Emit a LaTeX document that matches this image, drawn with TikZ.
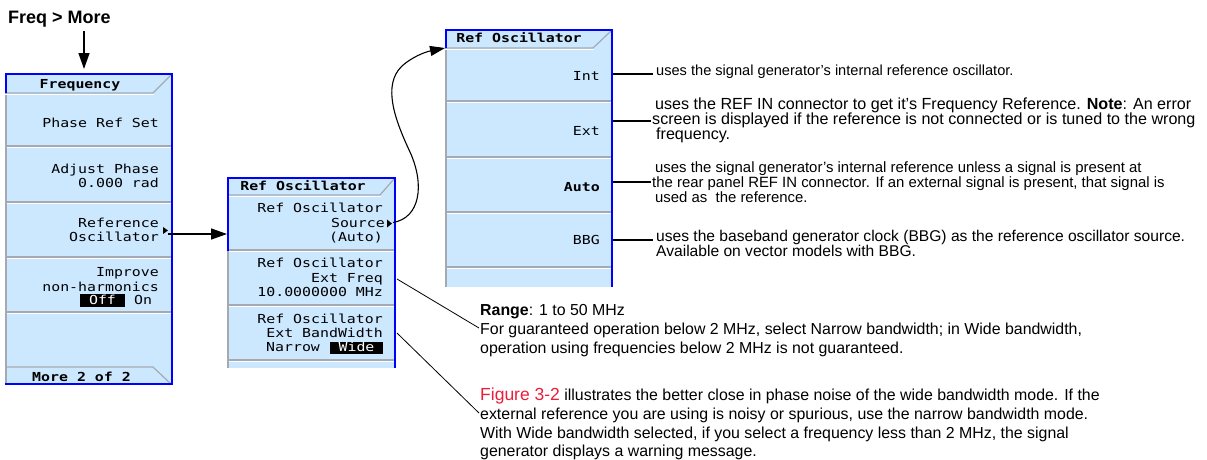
\documentclass[tikz,border=0pt]{standalone}
\usepackage{fontspec}
\setmainfont{Liberation Sans}
\newfontfamily\scrfont[FakeStretch=1.2]{DejaVu Sans Mono}
\usetikzlibrary{arrows.meta}
\definecolor{panelfill}{RGB}{204,232,255}
\definecolor{panelblue}{RGB}{0,0,255}
\definecolor{sepgray}{RGB}{165,170,178}
\definecolor{figred}{RGB}{237,28,58}
\begin{document}
\begin{tikzpicture}[x=1pt,y=-1pt,
  scr/.style={font=\scrfont\fontsize{12.4}{14}\selectfont, inner sep=0pt, anchor=base east},
  scrt/.style={font=\scrfont\bfseries\fontsize{12.4}{14}\selectfont, inner sep=0pt, anchor=base},
  desc/.style={font=\fontsize{15.9}{15.9}\selectfont, inner sep=0pt, anchor=base west},
  note/.style={font=\fontsize{15.9}{15.9}\selectfont, inner sep=0pt, anchor=base west},
  panelbox/.style={fill=panelfill, draw=none, inner sep=0pt, rectangle, anchor=north west},
  blueedge/.style={draw=panelblue, line width=2.4pt},
  grayedge/.style={draw=sepgray, line width=1.6pt},
  sepline/.style={draw=sepgray, line width=1.2pt},
  hiline/.style={draw=white, line width=1pt},
  arr/.style={draw=black, line width=1.4pt, -{Triangle[length=16pt,width=11pt]}},
  curvearr/.style={draw=black, line width=1.1pt, -{Triangle[length=15pt,width=10pt]}},
  conn/.style={draw=black, line width=1.4pt},
  thinconn/.style={draw=black, line width=0.8pt}
]
\useasboundingbox (0,0) rectangle (1207,459);

% ---------- heading and entry arrow
\node[font=\bfseries\fontsize{18}{18}\selectfont, inner sep=0pt, anchor=base west] (freqmore) at (8,23) {Freq > More};
\coordinate (freqarrowtop) at (84,31);
\coordinate (freqarrowtip) at (84,69);

% ---------- Frequency panel
\node[panelbox, minimum width=168pt, minimum height=312pt] (freq) at (5,73) {};
\draw[grayedge] (6,73) -- (6,385);
\draw[sepline] (5,93) -- (153,93) -- (171,75);
\draw[hiline] (5,94.5) -- (153.5,94.5);
\foreach \yy in {146,202,257,312} {
  \draw[sepline] (7,\yy) -- (171,\yy);
  \draw[hiline] ([yshift=-1.3pt]7,\yy) -- ([yshift=-1.3pt]171,\yy);
}
\draw[sepline] (5,367) -- (153,367) -- (171,384);
\draw[blueedge] (5,74.2) -- (171.8,74.2) -- (171.8,383.8) -- (5,383.8);
\draw[blueedge] (6.2,73) -- (6.2,93);

\node[scrt] (freqtitle) at (80,88) {Frequency};
\node[scr] (phref) at (159,127) {Phase Ref Set};
\node[scr] (adj1) at (159,173) {Adjust Phase};
\node[scr] (adj2) at (159,187) {0.000 rad};
\node[scr] (ref1) at (159,227) {Reference};
\node[scr] (ref2) at (159,241.5) {Oscillator};
\fill (163,227) -- (168,230.5) -- (163,234) -- cycle;
\node[scr] (imp1) at (159,276.5) {Improve};
\node[scr] (imp2) at (159,291) {non-harmonics};
\fill[black] (80,294) rectangle (125,307);
\node[scr, anchor=base, text=white] (offtxt) at (102.5,304.5) {Off};
\node[scr, anchor=base west] (ontxt) at (134,304.5) {On};
\node[scrt] (moretxt) at (81.5,381) {More 2 of 2};

% ---------- middle panel
\node[panelbox, minimum width=169pt, minimum height=191pt] (mid) at (227,177) {};
\draw[grayedge] (228,177) -- (228,368);
\draw[sepline] (227,195) -- (380,195) -- (394,179);
\draw[hiline] (227,196.5) -- (380.5,196.5);
\foreach \yy in {250,305,360} {
  \draw[sepline] (229,\yy) -- (394,\yy);
  \draw[hiline] ([yshift=-1.3pt]229,\yy) -- ([yshift=-1.3pt]394,\yy);
}
\draw[blueedge] (227,178.2) -- (394.8,178.2) -- (394.8,368);
\draw[blueedge] (228.2,177) -- (228.2,251);

\node[scrt] (midtitle) at (303,190.5) {Ref Oscillator};
\node[scr] (m11) at (383,212.5) {Ref Oscillator};
\node[scr] (m12) at (385,227.5) {Source};
\fill (387,219.5) -- (392,223.5) -- (387,227.5) -- cycle;
\node[scr] (m13) at (383,241.5) {(Auto)};
\node[scr] (m21) at (383,267.5) {Ref Oscillator};
\node[scr] (m22) at (383,282.5) {Ext Freq};
\node[scr] (m23) at (383,296.5) {10.0000000 MHz};
\node[scr] (m31) at (383,323.5) {Ref Oscillator};
\node[scr] (m32) at (383,337.5) {Ext BandWidth};
\node[scr, anchor=base west] (m33) at (266,351.5) {Narrow};
\fill[black] (330,342) rectangle (383,353.5);
\node[scr, anchor=base, text=white] (widetxt) at (356.5,351.5) {Wide};

% ---------- right panel
\node[panelbox, minimum width=168pt, minimum height=258pt] (rpanel) at (445,29) {};
\draw[grayedge] (446,29) -- (446,287);
\draw[sepline] (445,48) -- (593,48) -- (611,31);
\draw[hiline] (445,49.5) -- (593.5,49.5);
\foreach \yy in {101,157,212,267} {
  \draw[sepline] (447,\yy) -- (611,\yy);
  \draw[hiline] ([yshift=-1.3pt]447,\yy) -- ([yshift=-1.3pt]611,\yy);
}
\draw[blueedge] (445,30.2) -- (611.8,30.2) -- (611.8,287);
\draw[blueedge] (446.2,29) -- (446.2,48);

\node[scrt] (rtitle) at (519,42.5) {Ref Oscillator};
\node[scr] (lint) at (600,80.5) {Int};
\node[scr] (lext) at (600,135.5) {Ext};
\node[scr, font=\scrfont\bfseries\fontsize{12.4}{14}\selectfont] (lauto) at (600,191.5) {Auto};
\node[scr] (lbbg) at (600,244.5) {BBG};

% ---------- descriptions
\node[desc, font=\fontsize{14.6}{14.6}\selectfont] (dint) at (656,75) {uses the signal generator’s internal reference oscillator.};
\node[desc, font=\fontsize{16.1}{16.1}\selectfont] (dext1) at (655,109) {uses the REF IN connector to get it’s Frequency Reference. \textbf{Note}: An error};
\node[desc, font=\fontsize{16.1}{16.1}\selectfont] (dext2) at (652,124) {screen is displayed if the reference is not connected or is tuned to the wrong};
\node[desc, font=\fontsize{16.1}{16.1}\selectfont] (dext3) at (656,139) {frequency.};
\node[desc, font=\fontsize{14.9}{14.9}\selectfont] (dauto1) at (655,172) {uses the signal generator’s internal reference unless a signal is present at};
\node[desc, font=\fontsize{14.9}{14.9}\selectfont] (dauto2) at (652,187) {the rear panel REF IN connector. If an external signal is present, that signal is};
\node[desc, font=\fontsize{14.9}{14.9}\selectfont] (dauto3) at (655,202) {used as\ \ the reference.};
\node[desc, font=\fontsize{15.6}{15.6}\selectfont] (dbbg1) at (656,241) {uses the baseband generator clock (BBG) as the reference oscillator source.};
\node[desc, font=\fontsize{15.6}{15.6}\selectfont] (dbbg2) at (656,256) {Available on vector models with BBG.};

\node[note] (rng1) at (480,315) {\textbf{Range}: 1 to 50 MHz};
\node[note] (rng2) at (480,334) {For guaranteed operation below 2 MHz, select Narrow bandwidth; in Wide bandwidth,};
\node[note] (rng3) at (480,353) {operation using frequencies below 2 MHz is not guaranteed.};
\node[note] (fig1) at (480,400) {{\color{figred}\fontsize{17.5}{17.5}\selectfont Figure 3-2} illustrates the better close in phase noise of the wide bandwidth mode. If the};
\node[note] (fig2) at (480,419) {external reference you are using is noisy or spurious, use the narrow bandwidth mode.};
\node[note] (fig3) at (480,438) {With Wide bandwidth selected, if you select a frequency less than 2 MHz, the signal};
\node[note] (fig4) at (480,456) {generator displays a warning message.};

% ---------- connectors
\draw[arr] (freqarrowtop) -- (freqarrowtip);
\coordinate (refstart) at (168,234);
\draw[arr] (refstart) -- (refstart -| mid.west);
\coordinate (srcstart) at (393,222.5);
\coordinate (rtarget) at (445,48);
\draw[curvearr] (srcstart) .. controls (420,218) and (425,185) .. (410,152)
   .. controls (395,120) and (382,85) .. (402,66)
   .. controls (412,57) and (425,52) .. (rtarget);

\coordinate (intend) at (653,74);
\coordinate (extend) at (651,121);
\coordinate (autoend) at (651,182);
\coordinate (bbgend) at (653,240);
\draw[conn] (rpanel.east |- intend) -- (intend);
\draw[conn] (rpanel.east |- extend) -- (extend);
\draw[conn] (rpanel.east |- autoend) -- (autoend);
\draw[conn] (rpanel.east |- bbgend) -- (bbgend);

\coordinate (freqlinestart) at (397,279);
\coordinate (freqlineend) at (479,328);
\coordinate (bwlinestart) at (397,333);
\coordinate (bwlineend) at (479,413);
\draw[thinconn] (freqlinestart) -- (freqlineend);
\draw[thinconn] (bwlinestart) -- (bwlineend);
\end{tikzpicture}
\end{document}
